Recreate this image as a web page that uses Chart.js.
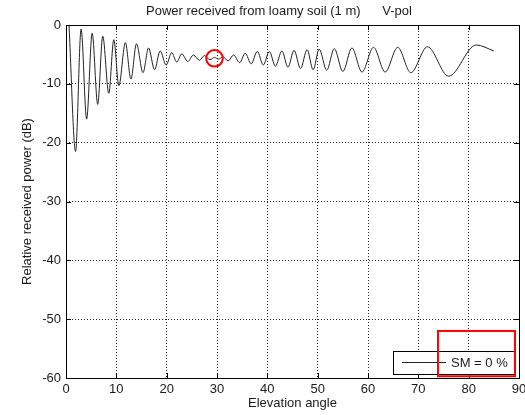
<!DOCTYPE html>
<html lang="en">
<head>
<meta charset="UTF-8">
<title>Power received from loamy soil</title>
<script src="https://cdn.jsdelivr.net/npm/chart.js"></script>
<style>
  html, body { margin: 0; padding: 0; background: #fff; }
  canvas { display: block; }
</style>
</head>
<body>
<canvas id="powerChart" width="525" height="415"></canvas>
<script>
// Curve at its turning points: elevation angle (deg), relative power (dB)
const elevation = [0.6, 1.9, 3.0, 4.1, 5.2, 6.3, 7.3, 8.5, 9.5, 10.5,
                   11.8, 12.9, 14.0, 15.3, 16.4, 17.6, 18.7, 19.9, 21.0, 22.0,
                   23.0, 24.2, 25.3, 26.5, 27.5, 28.6, 29.5, 30.3, 31.2, 32.2,
                   33.3, 34.5, 35.6, 36.8, 38.0, 39.2, 40.4, 41.6, 42.9, 44.1,
                   45.3, 46.6, 47.9, 49.1, 50.3, 51.8, 53.3, 55.0, 56.8, 58.8,
                   61.1, 63.4, 65.9, 68.5, 71.8, 76.0, 81.5, 85.0];
const powerDb = [0.0, -21.5, -0.7, -16.0, -1.4, -13.5, -1.9, -11.6, -2.5, -10.3,
                 -3.0, -9.2, -3.2, -8.1, -3.9, -7.6, -4.4, -6.8, -4.7, -6.3,
                 -4.9, -6.2, -5.1, -6.0, -5.2, -5.9, -5.5, -5.8, -5.4, -6.1,
                 -5.1, -6.4, -4.8, -6.6, -4.5, -6.8, -4.5, -7.0, -4.4, -7.2,
                 -4.3, -7.4, -4.2, -7.6, -4.1, -7.7, -4.0, -7.9, -3.9, -8.0,
                 -3.8, -8.0, -3.8, -8.1, -3.7, -8.7, -3.4, -4.4];

const xTicks = [0, 10, 20, 30, 40, 50, 60, 70, 80, 90];
const yTicks = [-60, -50, -40, -30, -20, -10, 0];
const legendLabel = 'SM = 0 %';
const titleText = 'Power received from loamy soil (1 m)      V-pol';

// red marks added on top of the figure (data coordinates)
const circleMark = [29.5, -5.66];
const boxMark = [73.9, 89.2, -52.0, -59.7];

const FONT = '13px "Liberation Sans", Arial, Helvetica, sans-serif';
const TEXT = '#1a1a1a';

// MATLAB-style frame: full box, inward ticks, title, legend and the red highlights
const matlabFrame = {
    id: 'matlabFrame',
    afterDraw(chart) {
        const { ctx, chartArea: a, scales: { x, y } } = chart;
        ctx.save();

        ctx.strokeStyle = '#000';
        ctx.lineWidth = 1;
        ctx.beginPath();
        xTicks.forEach(v => {
            const px = Math.round(x.getPixelForValue(v)) + 0.5;
            ctx.moveTo(px, a.bottom); ctx.lineTo(px, a.bottom - 5);
            ctx.moveTo(px, a.top); ctx.lineTo(px, a.top + 5);
        });
        yTicks.forEach(v => {
            const py = Math.round(y.getPixelForValue(v)) + 0.5;
            ctx.moveTo(a.left, py); ctx.lineTo(a.left + 5, py);
            ctx.moveTo(a.right, py); ctx.lineTo(a.right - 5, py);
        });
        ctx.stroke();
        ctx.strokeRect(Math.round(a.left) + 0.5, Math.round(a.top) + 0.5,
                       Math.round(a.right - a.left), Math.round(a.bottom - a.top));

        // title
        ctx.fillStyle = TEXT;
        ctx.font = FONT;
        ctx.textBaseline = 'middle';
        ctx.textAlign = 'left';
        ctx.fillText(titleText, 146, 11);

        // legend box in the lower right corner
        const lx = 393, ly = 351, lw = 122, lh = 23;
        ctx.fillStyle = '#fff';
        ctx.fillRect(lx, ly, lw, lh);
        ctx.strokeStyle = '#000';
        ctx.strokeRect(lx + 0.5, ly + 0.5, lw, lh);
        ctx.beginPath();
        ctx.moveTo(402, 362.5); ctx.lineTo(446, 362.5);
        ctx.strokeStyle = '#222';
        ctx.stroke();
        ctx.fillStyle = TEXT;
        ctx.fillText(legendLabel, 451, 363);

        // red highlights
        ctx.strokeStyle = '#ff0000';
        ctx.lineWidth = 2;
        ctx.beginPath();
        ctx.arc(x.getPixelForValue(circleMark[0]), y.getPixelForValue(circleMark[1]), 8.3, 0, Math.PI * 2);
        ctx.stroke();
        const bx1 = x.getPixelForValue(boxMark[0]), bx2 = x.getPixelForValue(boxMark[1]);
        const by1 = y.getPixelForValue(boxMark[2]), by2 = y.getPixelForValue(boxMark[3]);
        ctx.strokeRect(bx1, by1, bx2 - bx1, by2 - by1);

        ctx.restore();
    }
};

const axisFont = { family: '"Liberation Sans", Arial, Helvetica, sans-serif', size: 13 };

new Chart(document.getElementById('powerChart'), {
    type: 'line',
    data: {
        datasets: [{
            label: legendLabel,
            data: elevation.map((e, i) => ({ x: e, y: powerDb[i] })),
            borderColor: '#222',
            borderWidth: 1,
            pointRadius: 0,
            cubicInterpolationMode: 'monotone',
            fill: false
        }]
    },
    options: {
        responsive: false,
        animation: false,
        devicePixelRatio: 1,
        layout: { padding: { top: 25, left: 0, right: 0, bottom: 0 } },
        plugins: {
            legend: { display: false },
            title: { display: false },
            tooltip: { enabled: false }
        },
        scales: {
            x: {
                type: 'linear',
                min: 0,
                max: 90,
                afterBuildTicks: s => { s.ticks = xTicks.map(v => ({ value: v })); },
                afterFit: s => { s.height = 37; s.paddingRight = 6; s.paddingLeft = 0; },
                ticks: { color: TEXT, font: axisFont, padding: 4, maxRotation: 0 },
                grid: { color: 'rgba(0,0,0,0.85)', lineWidth: 1, drawTicks: false },
                border: { display: false, dash: [1, 2] },
                title: { display: true, text: 'Elevation angle', color: TEXT, font: axisFont, padding: { top: 0, bottom: 4 } }
            },
            y: {
                min: -60,
                max: 0,
                afterBuildTicks: s => { s.ticks = yTicks.map(v => ({ value: v })); },
                afterFit: s => { s.width = 66; s.paddingTop = 0; s.paddingBottom = 0; },
                ticks: { color: TEXT, font: axisFont, padding: 5 },
                grid: { color: 'rgba(0,0,0,0.85)', lineWidth: 1, drawTicks: false },
                border: { display: false, dash: [1, 2] },
                title: { display: true, text: 'Relative received power (dB)', color: TEXT, font: axisFont, padding: { top: 20, bottom: 0 } }
            }
        }
    },
    plugins: [matlabFrame]
});
</script>
</body>
</html>
